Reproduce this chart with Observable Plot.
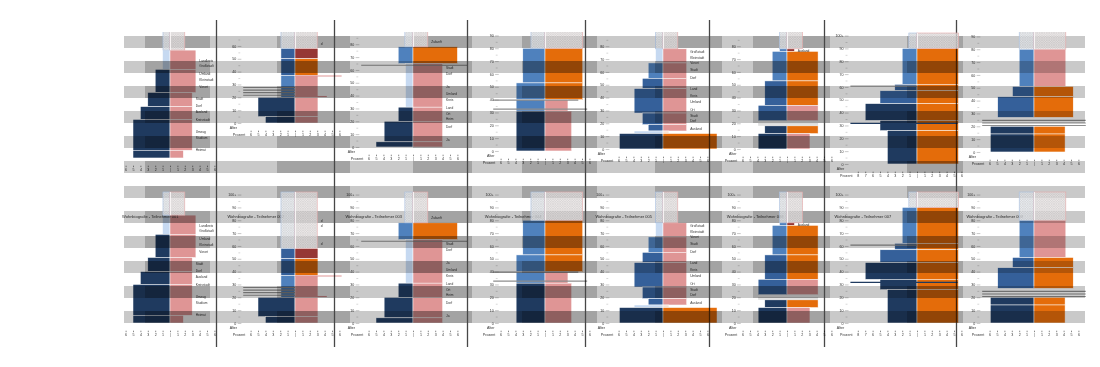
<!DOCTYPE html>
<html>
<head>
<meta charset="utf-8">
<script src="https://cdn.jsdelivr.net/npm/d3@7"></script>
<script src="https://cdn.jsdelivr.net/npm/@observablehq/plot@0.6"></script>
<style>
  html, body { margin: 0; padding: 0; background: #ffffff; }
  #root { position: relative; width: 1100px; height: 367px; overflow: hidden; font-family: "Liberation Sans", Arial, sans-serif; }
  .layer { position: absolute; }
  .clip { position: absolute; overflow: hidden; }
  #err { position: absolute; left: 10px; top: 10px; font-size: 10px; color: red; }
</style>
</head>
<body>
<div id="root"></div>
<script>
// ---------------- DATA ----------------
const participants = ["001", "002", "003", "004", "005", "006", "007", "008"];

// Wohnabschnitte: [von Alter, bis Alter, links %, links Typ, rechts %, rechts Typ]
const abschnitte001 = [
  [69, 84, 1, "pale", 3.5, "pink"],
  [51, 69, 2, "navy", 3.5, "pink"],
  [40, 51, 3, "navy", 3, "pink"],
  [30, 40, 4, "navy", 3, "pink"],
  [6, 30, 5, "navy", 3, "pink"],
  [0, 6, 5, "navy", 1.8, "pink"]
];
const abschnitte002 = [
  [50, 58, 1.9, "blue", 3.1, "maroon"],
  [37, 50, 1.9, "blue", 3.1, "orange"],
  [20, 37, 1.9, "sky", 3.1, "pink"],
  [5, 20, 5, "navy", 3.1, "pink"],
  [0, 5, 4, "navy", 3.1, "pink"]
];
const abschnitte003 = [
  [65, 78, 2, "sky", 6, "orange"],
  [31, 65, 1, "pale", 4, "pink"],
  [20, 31, 2, "navy", 4, "pink"],
  [4, 20, 3.9, "navy", 4, "pink"],
  [0, 4, 5, "navy", 4, "pink"]
];
const abschnitte004 = [
  [53, 80, 3, "sky", 5.1, "orange"],
  [40, 53, 3.9, "sky", 5.1, "orange"],
  [31, 40, 3.9, "sky", 3.1, "pink"],
  [0, 31, 3.9, "navy", 3.6, "pink"]
];
const abschnitte005 = [
  [67, 78, 1, "pale", 3.2, "pink"],
  [55, 67, 2, "sky", 3.2, "pink"],
  [47, 55, 2.8, "blue", 3.2, "pink"],
  [28, 47, 3.9, "blue", 3.2, "pink"],
  [19, 28, 2.8, "blue", 3.2, "pink"],
  [14, 19, 2, "blue", 3.2, "pink"],
  [12, 14, 3.9, "pale", 0.8, "peach"],
  [0, 12, 5.9, "navy", 7.3, "orange"]
];
const abschnitte006 = [
  [76, 78, 1, "sky", 1, "maroon"],
  [53, 76, 2, "sky", 4.2, "orange"],
  [34, 53, 3, "blue", 4.2, "orange"],
  [22, 34, 3.9, "blue", 4.2, "pink"],
  [12, 18, 3, "navy", 4.2, "orange"],
  [0, 12, 3.9, "navy", 3.1, "pink"]
];
const abschnitte007 = [
  [62, 90, 2, "sky", 5.6, "orange"],
  [57, 62, 3, "blue", 5.6, "orange"],
  [47, 57, 5, "blue", 5.6, "orange"],
  [34, 47, 7, "navy", 5.6, "orange"],
  [26, 34, 5, "navy", 5.6, "orange"],
  [0, 26, 4, "navy", 5.6, "orange"]
];
const abschnitte008 = [
  [51, 80, 2, "sky", 4.3, "pink"],
  [43, 51, 2.9, "blue", 5.3, "orange"],
  [27, 43, 4.9, "blue", 5.3, "orange"],
  [14, 20, 5.9, "navy", 4.2, "orange"],
  [0, 14, 5.9, "navy", 4.2, "orange"]
];
const abschnitte = [abschnitte001, abschnitte002, abschnitte003, abschnitte004,
                    abschnitte005, abschnitte006, abschnitte007, abschnitte008];

// noch nicht gelebte Jahre: [ab Alter, links %, rechts %]
const zukunft = [[84, 0.95, 2], [58, 1.9, 3], [78, 1.1, 2], [80, 1.9, 5.1],
                 [78, 1, 2], [78, 1, 2.1], [90, 1.1, 5.6], [80, 2, 4.3]];

// einzelne Linien: [Alter, von %, bis %, Typ]
const linien = [
  [],
  [[28, -7, 0, "grey"], [26, -7, 0, "grey"], [24, -7, 0, "grey"], [22, -7, 0, "grey"], [37, 0, 6.3, "pink"], [21, 0, 4.3, "pink"]],
  [[64, -7, 7.3, "grey"]],
  [[40, -7, 4.5, "grey"], [33, -7, 5.7, "grey"]],
  [],
  [[20, -3.9, 4.2, "lightgrey"], [19, -3.9, 4.2, "lightgrey"]],
  [[61, -9, 0, "grey"], [32, -9, 5.5, "navy"]],
  [[25, -7, 7, "grey"], [23, -7, 7, "grey"], [21, -7, 7, "grey"]]
];

// Ortsbeschriftungen: [Alter, Text]
const orte = [
  [[76, "Landkreis"], [72, "Großstadt"], [66, "Umland"], [61, "Kleinstadt"], [56, "Vorort"], [46, "Stadt"],
   [41, "Dorf"], [36, "Ausland"], [30, "Kreisstadt"], [21, "Umzug"], [16, "Studium"], [7, "Heimat"]],
  [[80, "d"], [76, "d"], [62, "d"]],
  [[82, "Zukunft"], [62, "Stadt"], [57, "Dorf"], [47, "Ja"], [42, "Umland"], [37, "Kreis"], [31, "Land"],
   [26, "Ort"], [22, "Heim"], [16, "Dorf"], [6, "Ja"]],
  [],
  [[76, "Großstadt"], [71, "Kleinstadt"], [67, "Vorort"], [62, "Stadt"], [56, "Dorf"], [47, "Land"],
   [42, "Kreis"], [37, "Umland"], [31, "Ort"], [26, "Stadt"], [22, "Dorf"], [16, "Ausland"]],
  [[77, "Ausland"]],
  [],
  []
];

const prozentTicks = [
  [-6, -5, -4, -3, -2, -1, 0, 1, 2, 3, 4, 5, 6],
  [-6, -5, -4, -3, -2, -1, 0, 1, 2, 3, 4, 5, 6],
  [-6, -5, -4, -3, -2, -1, 0, 1, 2, 3, 4, 5, 6],
  [-6, -5, -4, -3, -2, -1, 0, 1, 2, 3, 4, 5, 6],
  [-6, -5, -4, -3, -2, -1, 0, 1, 2, 3, 4, 5, 6],
  [-6, -5, -4, -3, -2, -1, 0, 1, 2, 3, 4, 5, 6],
  [-8, -7, -6, -5, -4, -3, -2, -1, 0, 1, 2, 3, 4, 5, 6],
  [-6, -5, -4, -3, -2, -1, 0, 1, 2, 3, 4, 5, 6]
];
const altersTicks = [0, 10, 20, 30, 40, 50, 60, 70, 80, 90, 100];

// background sheet (page units)
const stripes = [0, 1, 2, 3, 4, 5, 6, 7, 8, 9, 10, 11];
const darkSpans = [[145, 210], [277, 350], [413, 472], [522, 597], [655, 722], [753, 830], [907, 963]];
const dividers = [216, 334, 467, 585, 709, 824, 956];

// ---------------- LAYOUT / STYLE ----------------
const typColors = {
  navy: "#1f3a5f", blue: "#35609a", sky: "#4f81bd", pale: "#c6d9f1",
  orange: "#e46c0a", pink: "#df9595", maroon: "#953735", peach: "#fbe4d5",
  grey: "#8e8e8e", lightgrey: "#d0d0d0"
};
const panelCenters = [170, 295, 413, 545, 663, 787, 917, 1034];
const topShifts = [165, 200, 176, 172, 174, 174, 159, 171];
const ageAxisPct = [-8, -8, -8, -7, -8, -7, -10, -8];
const PX = 7.4;          // px per Prozent
const YPX = 1.284;       // px per Lebensjahr
const X_DOMAIN = [-13, 13];
const Y_DOMAIN = [-6, 102];
const PANEL_W = 200;
const M_TOP = 12;
const PANEL_H = 165;
const M_SIDE = (PANEL_W - (X_DOMAIN[1] - X_DOMAIN[0]) * PX) / 2;
const M_BOTTOM = PANEL_H - M_TOP - (Y_DOMAIN[1] - Y_DOMAIN[0]) * YPX;
const CLIP_LEFT = 120;
const TOP_CLIP = 32, BOTTOM_CLIP = 180;

const root = document.getElementById("root");

function report(e) {
  const d = document.createElement("div");
  d.id = "err";
  d.textContent = String(e && e.stack || e);
  root.appendChild(d);
}

try {
  const darkCells = stripes.flatMap(s => darkSpans.map(([a, b]) => ({stripe: s, a, b})));
  const bg = Plot.plot({
    width: 1100, height: 367,
    marginLeft: 0, marginRight: 0, marginTop: 20, marginBottom: 20,
    x: {domain: [0, 1100], range: [0, 1100], axis: null},
    y: {type: "band", domain: stripes, range: [35, 323], paddingInner: 0.52, paddingOuter: 0, axis: null},
    style: {background: "transparent", overflow: "visible"},
    marks: [
      Plot.barX(stripes, {x1: () => 124, x2: () => 1085, y: d => d, fill: "#c9c9c9"}),
      Plot.barX(darkCells, {x1: "a", x2: "b", y: "stripe", fill: "#a3a3a3"}),
      Plot.ruleX(dividers, {x: d => d, stroke: "#474747", strokeWidth: 1.3})
    ]
  });
  const bgDiv = document.createElement("div");
  bgDiv.className = "layer";
  Object.assign(bgDiv.style, {left: "0px", top: "0px", width: "1100px", height: "367px"});
  bgDiv.appendChild(bg);
  root.appendChild(bgDiv);
} catch (e) { report(e); }

const topClip = document.createElement("div");
topClip.className = "clip";
Object.assign(topClip.style, {left: CLIP_LEFT + "px", top: TOP_CLIP + "px", width: "980px", height: "158px"});
const bottomClip = document.createElement("div");
bottomClip.className = "clip";
Object.assign(bottomClip.style, {left: CLIP_LEFT + "px", top: BOTTOM_CLIP + "px", width: "980px", height: "187px"});
root.appendChild(topClip);
root.appendChild(bottomClip);

function hatchDefs() {
  const ns = "http://www.w3.org/2000/svg";
  const defs = document.createElementNS(ns, "defs");
  defs.innerHTML =
    '<pattern id="hatchL" width="2.4" height="2.4" patternUnits="userSpaceOnUse">' +
    '<rect width="2.4" height="2.4" fill="#e2e6ec"/><path d="M0,0L2.4,2.4M2.4,0L0,2.4" stroke="#bdbdbd" stroke-width="0.45"/></pattern>' +
    '<pattern id="hatchR" width="2.4" height="2.4" patternUnits="userSpaceOnUse">' +
    '<rect width="2.4" height="2.4" fill="#e8e2e2"/><path d="M0,0L2.4,2.4M2.4,0L0,2.4" stroke="#bdbdbd" stroke-width="0.45"/></pattern>';
  return defs;
}

const commonOpts = {
  width: PANEL_W, height: PANEL_H,
  marginLeft: M_SIDE, marginRight: M_SIDE, marginTop: M_TOP, marginBottom: M_BOTTOM,
  x: {domain: X_DOMAIN, axis: null},
  y: {domain: Y_DOMAIN, axis: null},
  color: {type: "identity"}
};

// x (Prozent) der linken Clip-Kante in einem Panel
function clipPct(i) { return (CLIP_LEFT - panelCenters[i]) / PX; }

function barPlot(i, showTitle, panelTop, clipTop) {
  const segs = abschnitte[i].map(([from, to, left, lt, right, rt]) => ({from, to, left, lt, right, rt}));
  const z = zukunft[i];
  const ax = ageAxisPct[i];
  const ticks = prozentTicks[i];
  const visibleAxis = ax - 2.5 > clipPct(i);
  // only texts that lie fully inside the visible (clipped) window
  const inView = age => panelTop + M_TOP + (Y_DOMAIN[1] - age) * YPX >= clipTop + 3;
  const rightAt = a => {
    const s = segs.find(s => a >= s.from && a <= s.to);
    return s ? s.right : z[2];
  };
  const minor = d3.range(5, 100, 10).filter(inView);
  const majors = altersTicks.filter(inView);
  const lab = orte[i].map(([age, text]) => ({age, text})).filter(d => inView(d.age));
  const marks = [
    Plot.rect(segs, {x1: d => -d.left, x2: 0, y1: "from", y2: "to", fill: d => typColors[d.lt], stroke: "white", strokeWidth: 0.5}),
    Plot.rect(segs, {x1: 0, x2: d => d.right, y1: "from", y2: "to", fill: d => typColors[d.rt], stroke: "white", strokeWidth: 0.5}),
    Plot.ruleY(linien[i], {y: d => d[0], x1: d => d[1], x2: d => d[2], stroke: d => typColors[d[3]], strokeWidth: 1.1}),
    Plot.axisX({ticks, tickSize: 1.5, tickPadding: 1.2, label: null, tickFormat: d => d === 0 ? "|" : String(Math.abs(d)), fontSize: 3.6, stroke: "#888", fill: "#333"}),
    Plot.text(lab, {x: d => rightAt(d.age) + 0.4, y: "age", text: "text", textAnchor: "start", fontSize: 3.2, fill: "#333"})
  ];
  if (visibleAxis) {
    marks.push(
      Plot.ruleY(majors, {y: d => d, x1: ax + 0.25, x2: ax + 0.75, stroke: "#777", strokeWidth: 0.4}),
      Plot.ruleY(minor, {y: d => d, x1: ax + 0.35, x2: ax + 0.6, stroke: "#999", strokeWidth: 0.4}),
      Plot.text(majors, {x: ax, y: d => d, text: d => d === 100 ? "100+" : String(d), textAnchor: "end", fontSize: 3.6, fill: "#333"}),
      Plot.text(["Alter"], {x: ax - 0.9, y: -3.2, text: d => d, textAnchor: "start", fontSize: 3.6, fill: "#333"}),
      Plot.text(["Prozent"], {x: ticks[0] - 0.8, frameAnchor: "bottom", dy: 4.6, text: d => d, textAnchor: "end", fontSize: 3.6, fill: "#333"})
    );
  }
  if (showTitle) {
    const tx = Math.max(ax - 1.2, clipPct(i) + 0.2);
    marks.push(Plot.text([`Wohnbiografie - Teilnehmer ${participants[i]}`], {x: tx, y: 83, text: d => d, textAnchor: "start", fontSize: 4, fill: "#333"}));
  }
  return Plot.plot({
    ...commonOpts,
    style: {background: "transparent", mixBlendMode: "multiply", fontFamily: "Liberation Sans, Arial, sans-serif", fontSize: "4px", overflow: "visible"},
    marks
  });
}

function hatchPlot(i) {
  const z = zukunft[i];
  return Plot.plot({
    ...commonOpts,
    style: {background: "transparent", overflow: "visible"},
    marks: [
      () => hatchDefs(),
      Plot.rect([z], {x1: d => -d[1], x2: 0, y1: d => d[0], y2: 102, fill: "url(#hatchL)", fillOpacity: 0.78, stroke: "#a9c1e2", strokeWidth: 0.6}),
      Plot.rect([z], {x1: 0, x2: d => d[2], y1: d => d[0], y2: 102, fill: "url(#hatchR)", fillOpacity: 0.78, stroke: "#e4a8a8", strokeWidth: 0.6}),
      Plot.ruleX([0], {y1: z[0], y2: 102, stroke: "white", strokeWidth: 0.8})
    ]
  });
}

function place(container, svg, left, top) {
  const d = document.createElement("div");
  d.className = "layer";
  d.style.left = left + "px";
  d.style.top = top + "px";
  d.style.width = PANEL_W + "px";
  d.style.height = PANEL_H + "px";
  d.appendChild(svg);
  container.appendChild(d);
}

try {
  participants.forEach((p, i) => {
    const left = panelCenters[i] - PANEL_W / 2 - CLIP_LEFT;
    // untere Reihe
    place(bottomClip, barPlot(i, true, BOTTOM_CLIP, BOTTOM_CLIP), left, 0);
    place(bottomClip, hatchPlot(i), left, 0);
    // obere Reihe (verschoben)
    const topAbs = BOTTOM_CLIP - topShifts[i];
    place(topClip, barPlot(i, false, topAbs, TOP_CLIP), left, topAbs - TOP_CLIP);
    place(topClip, hatchPlot(i), left, topAbs - TOP_CLIP);
  });
} catch (e) { report(e); }
</script>
</body>
</html>
